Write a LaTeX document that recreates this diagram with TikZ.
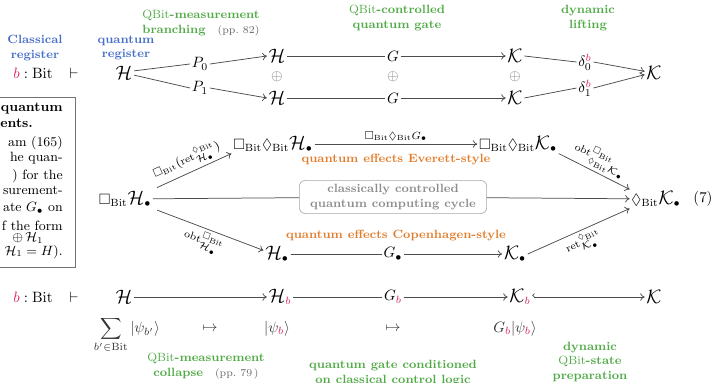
\documentclass[tikz,border=0pt]{standalone}
\usepackage{amsmath,amssymb,xcolor,graphicx}
\usepackage{tikz}
\usetikzlibrary{arrows.meta,positioning}
\definecolor{regblue}{RGB}{70,110,200}
\definecolor{labgreen}{RGB}{80,170,70}
\definecolor{bitpink}{RGB}{215,40,100}
\definecolor{effectorange}{RGB}{225,125,45}
\colorlet{cyclegray}{black!45}
\colorlet{wiregray}{black!70}
\newcommand{\Bt}{\mathrm{Bit}}
\newcommand{\cb}{{\color{bitpink}b}}
\newcommand{\bigcal}[1]{\mathord{\mathchoice
  {\scalebox{1.3}{$\displaystyle\mathcal{#1}$}}{\scalebox{1.3}{$\textstyle\mathcal{#1}$}}%
  {\scalebox{1.3}{$\scriptstyle\mathcal{#1}$}}{\scalebox{1.3}{$\scriptscriptstyle\mathcal{#1}$}}}}
\newcommand{\HH}{\bigcal{H}}
\newcommand{\KK}{\bigcal{K}}
\newcommand{\BoxB}{\square_{\Bt}}
\newcommand{\DiaB}{\lozenge_{\Bt}}
\newcommand{\QB}{\textmd{QBit}}

\begin{document}
\begin{tikzpicture}[x=.0235cm,y=-.0235cm,
    every node/.style={inner sep=1pt},
    lab/.style={font=\footnotesize\bfseries,align=center,inner sep=0pt},
    eff/.style={font=\footnotesize\bfseries,text=effectorange},
    arlbl/.style={font=\scriptsize,inner sep=2pt},
    wire/.style={draw=wiregray,line width=.5pt},
    map/.style={wire,-{To[length=3pt,width=5pt]}},
    cyclebox/.style={draw=black!35,rounded corners=4pt,text=cyclegray,font=\footnotesize\bfseries,
      align=center,minimum width=4.4cm,minimum height=.78cm,inner sep=2pt},
    remark/.style={font=\small,inner sep=0pt}]
  \useasboundingbox (0,0) rectangle (720,383);

  % remark box (cut by the page edge)
  \draw[black!55,line width=.6pt] (-60,97) rectangle (75,267);
  \node[remark,anchor=east] (rm1) at (63,109) {\textbf{quantum}};
  \node[remark,anchor=west] (rm2) at (0,123) {\textbf{ents.}};
  \node[remark,anchor=east] (rm3) at (63,143) {am (165)};
  \node[remark,anchor=east] (rm4) at (63,158) {he quan-};
  \node[remark,anchor=east] (rm5) at (63,176) {) for the};
  \node[remark,anchor=east] (rm6) at (63,190) {surement-};
  \node[remark,anchor=east] (rm7) at (63,208) {ate $G_\bullet$ on};
  \node[remark,anchor=east] (rm8) at (63,226) {f the form};
  \node[remark,anchor=west] (rm9) at (12,238) {$\oplus\,\mathcal{H}_1$};
  \node[remark,anchor=east] (rm10) at (63,252) {$\mathcal{H}_1 = H$).};

  % labels on top
  \node[lab,text=regblue] (clreg) at (35,48) {Classical\\register};
  \node[lab,text=regblue] (qreg) at (126,48) {quantum\\register};
  \node[lab,text=labgreen] (branch) at (201,23)
    {\QB-measurement\\branching\quad{\mdseries\scriptsize\color{black!60}(pp.~82)}};
  \node[lab,text=labgreen] (ctrl) at (397,18) {\QB-controlled\\quantum gate};
  \node[lab,text=labgreen] (lift) at (588,18) {dynamic\\lifting};

  % top row
  \node (tb) at (33,73) {$\cb:\Bt$};
  \node (tvd) at (74,73) {$\vdash$};
  \node (H) at (124,73) {$\HH$};
  \node (P0) at (200,64) {$P_0$};
  \node (P1) at (200,88) {$P_1$};
  \node (Hu) at (277,56) {$\HH$};
  \node[text=black!55] (Hp) at (277,77) {$\oplus$};
  \node (Hl) at (277,98) {$\HH$};
  \node (Gu) at (393,56) {$G$};
  \node[text=black!55] (Gp) at (393,77) {$\oplus$};
  \node (Gl) at (393,98) {$G$};
  \node (Ku) at (515,56) {$\KK$};
  \node[text=black!55] (Kp) at (515,77) {$\oplus$};
  \node (Kl) at (515,98) {$\KK$};
  \node (d0) at (585,62) {$\delta_0^{\cb}$};
  \node (d1) at (585,88) {$\delta_1^{\cb}$};
  \node (K) at (654,73) {$\KK$};

  \draw[wire] (H.12) -- (P0.west);
  \draw[map] (P0.east) -- (Hu.west);
  \draw[wire] (H.-12) -- (P1.west);
  \draw[map] (P1.east) -- (Hl.west);
  \draw[wire] (Hu) -- (Gu);
  \draw[map] (Gu) -- (Ku);
  \draw[wire] (Hl) -- (Gl);
  \draw[map] (Gl) -- (Kl);
  \draw[wire] (Ku.east) -- (d0.west);
  \draw[map] (d0.east) -- (K.170);
  \draw[wire] (Kl.east) -- (d1.west);
  \draw[map] (d1.east) -- (K.190);

  % middle square
  \node (BH) at (125,199) {$\BoxB\HH_\bullet$};
  \node (BDH) at (273,144) {$\BoxB\DiaB\HH_\bullet$};
  \node (BDK) at (518,144) {$\BoxB\DiaB\KK_\bullet$};
  \node (DK) at (656,199) {$\DiaB\KK_\bullet$};
  \node (eqno) at (703,199) {(7)};
  \node[cyclebox] (cyc) at (393,197) {classically controlled\\quantum computing cycle};
  \node[eff] (ever) at (396,160) {quantum effects Everett-style};
  \node[eff] (cope) at (396,236) {quantum effects Copenhagen-style};
  \node (Hb) at (277,254) {$\HH_\bullet$};
  \node (Gb) at (393,254) {$G_\bullet$};
  \node (Kb) at (515,254) {$\KK_\bullet$};

  \draw[map,shorten <=3pt] (BH.north east) -- node[sloped,above,arlbl]
    {$\BoxB\big(\mathrm{ret}^{\DiaB}_{\HH_\bullet}\big)$} (BDH.south west);
  \draw[map] (BDH) -- node[above,arlbl] {$\BoxB\DiaB G_\bullet$} (BDK);
  \draw[map] (BDK.south east) -- node[sloped,above,arlbl]
    {$\mathrm{obt}^{\BoxB}_{\DiaB\KK_\bullet}$} (DK.north west);
  \draw[wire] (BH) -- (cyc);
  \draw[map] (cyc) -- (DK);
  \draw[map,shorten <=3pt] (BH.south east) -- node[sloped,below,arlbl]
    {$\mathrm{obt}^{\BoxB}_{\HH_\bullet}$} (Hb.165);
  \draw[wire] (Hb) -- (Gb);
  \draw[map] (Gb) -- (Kb);
  \draw[map] (Kb.east) -- node[sloped,below,arlbl]
    {$\mathrm{ret}^{\DiaB}_{\KK_\bullet}$} (DK.south west);

  % bottom row
  \node (bb) at (33,297) {$\cb:\Bt$};
  \node (bvd) at (74,297) {$\vdash$};
  \node (Hc) at (124,297) {$\HH$};
  \node (Hcb) at (280,297) {$\HH_{\cb}$};
  \node (Gcb) at (393,297) {$G_{\cb}$};
  \node (Kcb) at (520,297) {$\KK_{\cb}$};
  \node (Kc) at (654,297) {$\KK$};

  \draw[map] (Hc) -- (Hcb);
  \draw[wire] (Hcb) -- (Gcb);
  \draw[map] (Gcb) -- (Kcb);
  \draw[wire,{Hooks[right]}-{To[length=3pt,width=5pt]}] (Kcb) -- (Kc);

  % states
  \node[text=black!80,anchor=base] (psum) at (127,333) {$\displaystyle\sum_{b'\in\Bt}|\psi_{b'}\rangle$};
  \node[text=black!80] (mt1) at (210,329) {$\mapsto$};
  \node[text=black!80] (psib) at (277,329) {$|\psi_{\cb}\rangle$};
  \node[text=black!80] (mt2) at (393,329) {$\mapsto$};
  \node[text=black!80] (Gpsi) at (515,329) {$G_{\cb}|\psi_{\cb}\rangle$};

  % labels below
  \node[lab,text=labgreen] (coll) at (206,366)
    {\QB-measurement\\collapse\quad{\mdseries\scriptsize\color{black!60}(pp.~79\,)}};
  \node[lab,text=labgreen] (cond) at (393,373) {quantum gate conditioned\\on classical control logic};
  \node[lab,text=labgreen] (prep) at (590,362) {dynamic\\\QB-state\\preparation};
\end{tikzpicture}
\end{document}
